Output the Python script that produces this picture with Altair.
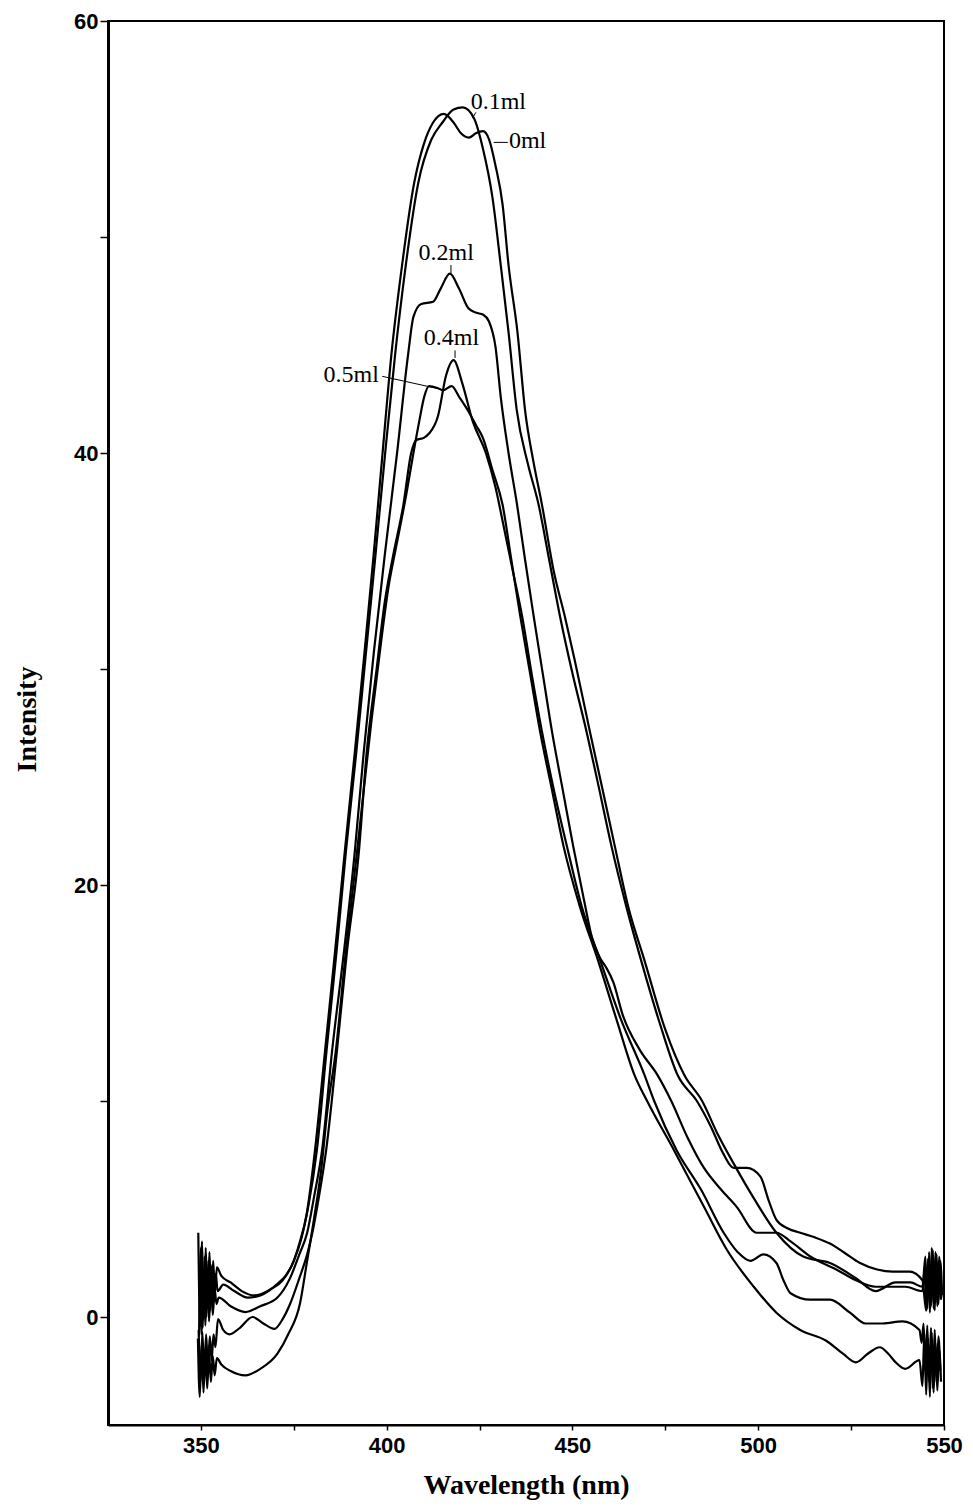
import altair as alt
import pandas as pd

series_names = ["0ml", "0.1ml", "0.2ml", "0.4ml", "0.5ml"]

s_0ml = [(349.3, 3.9), (349.8, -0.4), (350.3, 3.5), (350.8, 0.0), (351.3, 3.2), (351.8, 0.4), (352.3, 3.0),
         (352.8, 0.7), (353.3, 2.6), (353.8, 1.1), (354.3, 2.3), (355.5, 1.9), (358.0, 1.6), (361.0, 1.2),
         (364.4, 1.0), (368.0, 1.2), (371.0, 1.6), (373.2, 2.0), (375.0, 2.6), (376.5, 3.4), (378.5, 4.8),
         (380.7, 7.7), (383.4, 12.3), (386.1, 16.9), (388.7, 21.5), (391.4, 26.1), (394.0, 30.7), (396.5, 35.3),
         (398.9, 40.0), (401.3, 44.6), (404.0, 48.5), (407.4, 52.5), (410.0, 54.3), (412.5, 55.3), (415.4, 55.7),
         (418.0, 55.3), (420.0, 54.8), (422.1, 54.6), (424.0, 54.8), (425.9, 54.9), (427.6, 54.5), (429.3, 53.3),
         (431.2, 51.5), (432.8, 48.7), (435.2, 45.6), (437.3, 41.9), (439.5, 39.6), (441.8, 37.6), (445.0, 34.5),
         (448.0, 32.4), (450.5, 30.5), (454.7, 27.1), (458.0, 24.5), (461.4, 21.8), (465.0, 19.0), (469.4, 16.5),
         (475.0, 13.3), (480.1, 11.2), (484.9, 10.0), (489.0, 8.5), (493.4, 7.1), (498.8, 5.5), (504.9, 3.9),
         (512.1, 2.8), (519.3, 2.5), (526.3, 1.8), (531.6, 1.2), (537.0, 1.6), (541.0, 1.6), (544.2, 1.4),
         (545.0, 2.8), (545.5, 0.4), (546.0, 3.0), (546.5, 0.5), (547.0, 3.1), (547.5, 0.3), (548.0, 2.9),
         (548.5, 0.6), (549.0, 2.6), (549.5, 1.0)]

s_01ml = [(349.5, -0.9), (350.0, 3.2), (350.5, -0.5), (351.0, 2.8), (351.5, 0.0), (352.0, 2.6), (352.5, 0.3),
          (353.0, 2.4), (353.5, 0.7), (354.0, 2.0), (354.5, 1.2), (356.0, 1.5), (359.0, 1.2), (362.6, 0.9),
          (366.0, 1.0), (369.0, 1.3), (372.0, 1.7), (375.0, 2.6), (377.0, 3.6), (379.0, 5.2), (381.2, 7.7),
          (383.8, 12.3), (386.5, 16.9), (389.0, 21.5), (391.8, 26.1), (394.4, 30.7), (397.0, 35.3), (399.6, 40.0),
          (402.3, 44.6), (405.0, 48.5), (408.5, 52.5), (412.0, 54.5), (415.0, 55.3), (418.0, 55.9), (420.5, 56.0),
          (423.5, 55.5), (425.9, 54.1), (428.5, 51.8), (430.7, 48.7), (432.8, 45.6), (435.0, 42.0), (438.0, 39.5),
          (440.9, 37.6), (443.8, 35.0), (446.7, 32.4), (450.0, 29.8), (453.8, 27.1), (457.0, 24.6), (460.5, 21.8),
          (464.5, 19.0), (468.5, 16.5), (473.5, 13.6), (478.3, 11.2), (483.5, 10.0), (487.3, 8.8), (490.5, 7.6),
          (493.4, 6.9), (496.9, 6.9), (500.6, 6.5), (502.8, 5.4), (504.9, 4.5), (508.0, 4.1), (511.3, 3.9),
          (515.0, 3.7), (519.3, 3.4), (523.0, 3.0), (527.4, 2.5), (532.0, 2.2), (536.2, 2.1), (540.7, 2.1),
          (544.2, 1.7), (545.2, 0.3), (545.7, 2.7), (546.2, 0.2), (546.7, 3.2), (547.2, 0.4), (547.7, 3.0),
          (548.2, 0.5), (548.7, 2.8), (549.2, 0.8)]

s_02ml = [(349.7, 2.4), (350.2, -0.8), (350.7, 2.2), (351.2, -0.4), (351.7, 2.0), (352.2, -0.2), (352.7, 1.6),
          (353.2, 0.1), (353.7, 1.3), (354.2, 0.6), (354.8, 0.9), (358.0, 0.5), (362.0, 0.23), (366.0, 0.5),
          (370.6, 0.9), (374.0, 1.8), (376.5, 2.9), (378.6, 3.9), (380.5, 5.6), (382.6, 7.7), (385.3, 12.3),
          (388.5, 16.9), (391.4, 21.5), (393.8, 26.1), (396.5, 30.7), (399.5, 35.3), (402.8, 40.0), (405.8, 44.6),
          (407.2, 46.3), (409.3, 46.9), (412.5, 47.0), (414.5, 47.6), (417.0, 48.3), (419.5, 47.6), (422.0, 46.7),
          (424.0, 46.5), (426.0, 46.4), (427.5, 46.1), (429.3, 44.9), (430.7, 42.6), (432.8, 40.0), (435.1, 37.6),
          (437.3, 35.0), (439.6, 32.4), (442.0, 29.8), (444.5, 27.1), (447.5, 24.3), (450.2, 21.8), (453.0, 19.4),
          (455.5, 17.4), (457.5, 16.6), (459.0, 16.2), (461.0, 15.5), (463.5, 14.0), (468.0, 12.4), (472.9, 11.2),
          (476.6, 10.0), (481.0, 8.3), (485.4, 6.9), (490.0, 5.9), (494.2, 5.1), (499.6, 3.9), (504.9, 3.9),
          (508.7, 3.5), (514.0, 2.8), (521.0, 2.2), (526.3, 1.7), (531.6, 1.4), (539.6, 1.4), (544.2, 1.2),
          (544.8, 2.2), (545.3, 0.3), (545.8, 2.4), (546.3, 0.4), (546.8, 2.6), (547.3, 0.5), (547.8, 2.5),
          (548.3, 0.6), (548.8, 2.2), (549.3, 0.9)]

s_04ml = [(349.4, -0.6), (349.9, -3.0), (350.4, -0.7), (350.9, -2.8), (351.4, -0.8), (351.9, -2.4), (352.4, -0.9),
          (352.9, -2.0), (353.4, -0.8), (353.9, -1.4), (354.6, -0.1), (356.0, -0.6), (357.7, -0.8), (360.5, -0.5),
          (363.9, 0.0), (366.8, -0.3), (369.8, -0.55), (372.0, -0.1), (374.0, 0.6), (376.5, 1.8), (378.6, 2.9),
          (380.0, 3.9), (381.8, 5.6), (383.7, 7.7), (386.6, 12.3), (389.3, 16.9), (392.5, 21.5), (394.6, 26.1),
          (397.3, 30.0), (399.4, 33.0), (401.8, 35.3), (404.5, 37.6), (406.6, 40.0), (408.0, 40.6), (410.0, 40.7),
          (411.4, 40.9), (413.8, 41.7), (416.0, 43.6), (418.0, 44.3), (420.4, 43.2), (423.1, 41.5), (426.7, 40.0),
          (429.3, 38.4), (431.5, 36.6), (434.0, 34.5), (436.5, 32.4), (439.0, 29.8), (441.8, 27.1), (445.0, 24.4),
          (448.5, 21.8), (452.5, 19.0), (457.5, 16.5), (463.0, 13.8), (469.4, 11.2), (472.0, 10.0), (478.1, 7.7),
          (484.6, 5.9), (490.7, 3.9), (494.5, 3.0), (497.9, 2.6), (501.4, 2.9), (504.9, 2.5), (506.8, 1.7),
          (508.7, 1.1), (514.0, 0.8), (519.3, 0.8), (524.7, 0.2), (528.9, -0.3), (533.5, -0.3), (538.8, -0.2),
          (543.4, -0.6), (544.0, -1.2), (544.5, -0.3), (545.0, -2.5), (545.5, -0.4), (546.0, -3.0), (546.5, -0.5),
          (547.0, -3.3), (547.5, -0.6), (548.0, -3.0), (548.5, -0.9), (549.0, -2.5)]

s_05ml = [(349.2, -1.0), (349.7, -3.7), (350.2, -1.3), (350.7, -3.5), (351.2, -1.5), (351.7, -3.3), (352.2, -1.6),
          (352.7, -3.0), (353.2, -1.8), (353.7, -2.7), (354.3, -1.9), (355.5, -2.2), (358.0, -2.5), (362.0, -2.7),
          (366.0, -2.4), (370.6, -1.7), (373.5, -0.8), (376.7, 0.65), (378.5, 2.5), (380.4, 4.5), (382.5, 7.0),
          (384.0, 9.5), (386.3, 12.3), (389.0, 16.9), (392.0, 21.5), (395.9, 27.6), (398.1, 30.7), (400.5, 33.8),
          (402.6, 35.7), (405.3, 38.1), (407.2, 40.0), (408.8, 41.5), (410.1, 42.6), (411.4, 43.1), (413.8, 43.0),
          (415.2, 42.9), (417.5, 43.1), (419.5, 42.6), (422.1, 41.9), (424.0, 41.3), (425.9, 40.7), (428.5, 39.2),
          (431.2, 37.6), (433.6, 35.0), (436.0, 32.4), (438.6, 29.8), (441.3, 27.1), (444.5, 24.4), (447.6, 21.8),
          (452.0, 19.0), (456.9, 16.5), (462.0, 13.7), (466.7, 11.2), (470.1, 10.0), (477.4, 7.7), (485.4, 5.1),
          (491.6, 3.1), (498.8, 1.4), (504.9, 0.2), (511.3, -0.6), (518.3, -1.1), (522.8, -1.7), (526.3, -2.1),
          (529.5, -1.7), (532.7, -1.4), (535.0, -1.7), (537.0, -2.1), (539.6, -2.4), (543.4, -2.0), (544.2, -3.2),
          (544.7, -0.8), (545.2, -3.6), (545.7, -1.0), (546.2, -3.7), (546.7, -0.7), (547.2, -3.5), (547.7, -1.2),
          (548.2, -3.4), (548.7, -1.5), (549.2, -3.0)]

# curve labels and their leader lines (data coordinates)
ann_labels = ["0.1ml", "0ml", "0.2ml", "0.4ml", "0.5ml"]
ann_x = [422.6, 432.9, 408.6, 410.0, 383.0]
ann_y = [55.94, 54.1, 48.94, 45.0, 43.3]
lead_x1 = [424.0, 428.8, 417.3, 418.4, 398.8]
lead_y1 = [55.77, 54.38, 48.7, 44.75, 43.55]
lead_x2 = [423.1, 432.6, 417.3, 418.4, 414.6]
lead_y2 = [55.5, 54.38, 48.3, 44.4, 42.95]

x_ticks = [350, 375, 400, 425, 450, 475, 500, 525, 550]
y_ticks = [0, 10, 20, 30, 40, 50, 60]

rows = []
for name, pts in zip(series_names, [s_0ml, s_01ml, s_02ml, s_04ml, s_05ml]):
    for i, (w, v) in enumerate(pts):
        rows.append({"series": name, "i": i, "wl": w, "I": v})
df = pd.DataFrame(rows)

ann_df = pd.DataFrame({"label": ann_labels, "wl": ann_x, "I": ann_y})
lead_df = pd.DataFrame({"wl": lead_x1, "I": lead_y1, "wl2": lead_x2, "I2": lead_y2})

x_scale = alt.Scale(domain=[325, 550], nice=False, zero=False)
y_scale = alt.Scale(domain=[-5, 60], nice=False, zero=False)

x_axis = alt.Axis(
    values=x_ticks,
    labelExpr="datum.value % 50 === 0 ? datum.label : ''",
    title="Wavelength (nm)",
    grid=False,
    domainColor="black", domainWidth=2,
    tickColor="black", tickSize=5, tickWidth=1.5,
    labelFont="Liberation Sans", labelFontWeight="bold", labelFontSize=22,
    labelColor="black", labelPadding=5, labelFlush=False,
    titleFont="Liberation Serif", titleFontWeight="bold", titleFontSize=28,
    titleColor="black", titleY=68, titleBaseline="alphabetic",
)
y_axis = alt.Axis(
    values=y_ticks,
    labelExpr="datum.value % 20 === 0 ? datum.label : ''",
    title="Intensity",
    grid=False,
    domainColor="black", domainWidth=3,
    tickColor="black", tickSize=8, tickWidth=1.5,
    labelFont="Liberation Sans", labelFontWeight="bold", labelFontSize=22,
    labelColor="black", labelPadding=2, labelFlush=False,
    titleFont="Liberation Serif", titleFontWeight="bold", titleFontSize=28,
    titleColor="black", titleX=-73, titleY=698, titleAngle=270,
    titleAlign="center", titleBaseline="alphabetic",
)

x_enc = alt.X("wl:Q", scale=x_scale, axis=x_axis)
y_enc = alt.Y("I:Q", scale=y_scale, axis=y_axis)

lines = alt.Chart(df).mark_line(
    color="black", strokeWidth=2.2, interpolate="monotone", clip=True
).encode(x=x_enc, y=y_enc, detail="series:N", order="i:Q")

leaders = alt.Chart(lead_df).mark_rule(color="black", strokeWidth=1).encode(
    x=x_enc, y=y_enc, x2="wl2:Q", y2="I2:Q"
)

texts = alt.Chart(ann_df).mark_text(
    font="Liberation Serif", fontSize=24, color="black", align="left", baseline="alphabetic"
).encode(x=x_enc, y=y_enc, text="label:N")

chart = alt.layer(lines, leaders, texts).properties(
    width=836, height=1404,
    autosize=alt.AutoSizeParams(type="none"),
    padding={"left": 100, "top": 13, "right": 21, "bottom": 75},
    background="white",
).configure_view(stroke="black", strokeWidth=2)

chart.save("out.html", embed_options={"renderer": "svg", "actions": False})
